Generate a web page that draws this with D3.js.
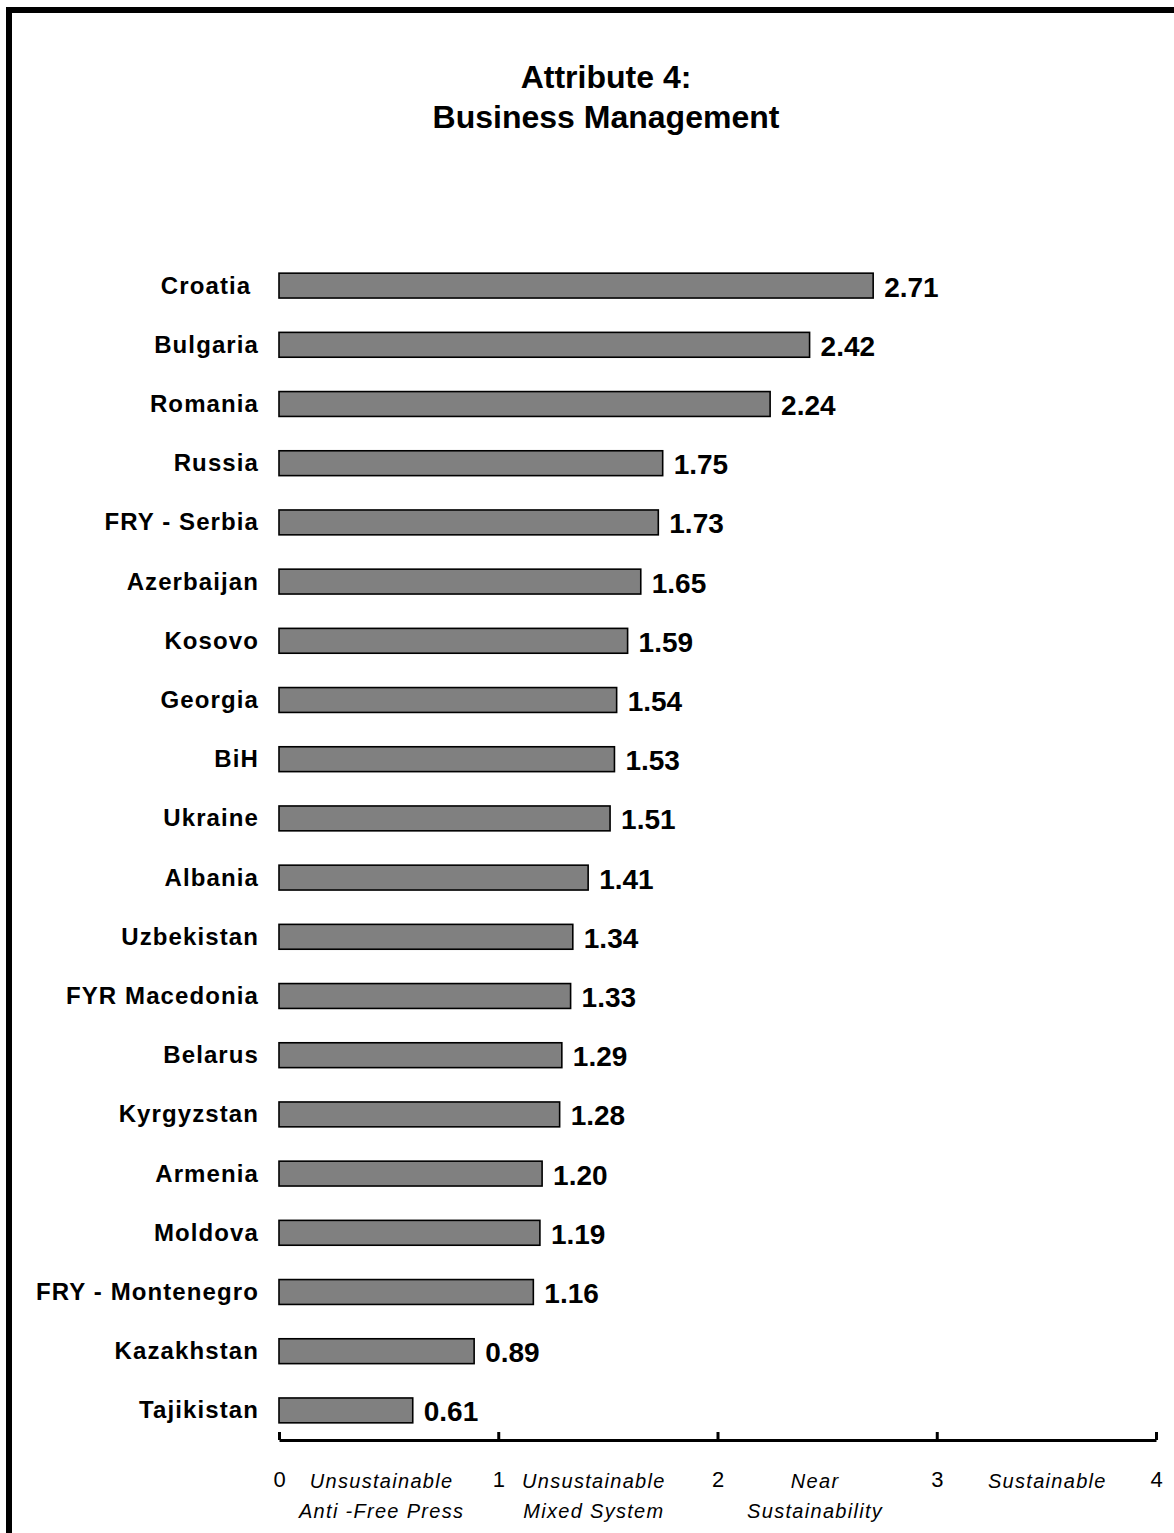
<!DOCTYPE html>
<html>
<head>
<meta charset="utf-8">
<script src="https://cdn.jsdelivr.net/npm/d3@7"></script>
<style>
  html, body { margin: 0; padding: 0; background: #fff; }
  svg { display: block; font-family: "Liberation Sans", Arial, sans-serif; }
</style>
</head>
<body>
<svg id="chart" width="1174" height="1533"></svg>
<script>
// Country scores, top to bottom
const countries = [
  "Croatia ", "Bulgaria", "Romania", "Russia", "FRY - Serbia", "Azerbaijan",
  "Kosovo", "Georgia", "BiH", "Ukraine", "Albania", "Uzbekistan",
  "FYR Macedonia", "Belarus", "Kyrgyzstan", "Armenia", "Moldova",
  "FRY - Montenegro", "Kazakhstan", "Tajikistan"
];
const scores = [
  2.71, 2.42, 2.24, 1.75, 1.73, 1.65, 1.59, 1.54, 1.53, 1.51, 1.41,
  1.34, 1.33, 1.29, 1.28, 1.20, 1.19, 1.16, 0.89, 0.61
];
const tickValues = [0, 1, 2, 3, 4];
const bandLabels = [
  ["Unsustainable", "Anti -Free Press"],
  ["Unsustainable", "Mixed System"],
  ["Near", "Sustainability"],
  ["Sustainable"]
];
const titleLines = ["Attribute 4:", "Business Management"];

const rows = countries.map((c, i) => ({ country: c, value: scores[i] }));

const svg = d3.select("#chart");

// outer frame (only the top and left edges fall inside the page)
svg.append("rect")
  .attr("x", 9).attr("y", 10)
  .attr("width", 1300).attr("height", 1700)
  .attr("fill", "none").attr("stroke", "#000").attr("stroke-width", 6);

// title
svg.append("g").selectAll("text")
  .data(titleLines)
  .join("text")
  .attr("x", 606)
  .attr("y", (d, i) => 88 + i * 40)
  .attr("text-anchor", "middle")
  .attr("font-size", 32)
  .attr("font-weight", "bold")
  .text(d => d);

const x = d3.scaleLinear().domain([0, 4]).range([279, 1156]);
const y = d3.scaleBand()
  .domain(countries)
  .range([256, 1440])
  .paddingInner(0.58)
  .paddingOuter(0.29);

// bars
svg.append("g").selectAll("rect")
  .data(rows)
  .join("rect")
  .attr("x", x(0))
  .attr("y", d => y(d.country))
  .attr("width", d => x(d.value) - x(0))
  .attr("height", y.bandwidth())
  .attr("fill", "#808080")
  .attr("stroke", "#000")
  .attr("stroke-width", 1.6);

// value labels
svg.append("g").selectAll("text")
  .data(rows)
  .join("text")
  .attr("x", d => x(d.value) + 11)
  .attr("y", d => y(d.country) + y.bandwidth() / 2 + 11)
  .attr("font-size", 28)
  .attr("font-weight", "bold")
  .text(d => d.value.toFixed(2));

// country labels
svg.append("g").selectAll("text")
  .data(rows)
  .join("text")
  .attr("x", 259)
  .attr("y", d => y(d.country) + y.bandwidth() / 2 + 8)
  .attr("text-anchor", "end")
  .attr("font-size", 24)
  .attr("font-weight", "bold")
  .attr("letter-spacing", 1.1)
  .style("white-space", "pre")
  .text(d => d.country);

// axis
const axis = d3.axisBottom(x)
  .tickValues(tickValues)
  .tickFormat(d3.format("d"))
  .tickSize(-8)
  .tickSizeOuter(0)
  .tickPadding(31);

const ag = svg.append("g")
  .attr("transform", "translate(0,1440)")
  .call(axis);
ag.select(".domain").attr("stroke", "#000").attr("stroke-width", 3);
ag.selectAll(".tick line").attr("stroke", "#000").attr("stroke-width", 3);
ag.selectAll(".tick text")
  .attr("fill", "#000")
  .attr("font-size", 22)
  .attr("font-family", "\"Liberation Sans\", Arial, sans-serif");

// rating band descriptions between ticks
const nudge = [-7, -14, -12, 1];
const bg = svg.append("g");
bandLabels.forEach((lines, i) => {
  bg.append("text")
    .attr("text-anchor", "middle")
    .attr("font-size", 20)
    .attr("font-style", "italic")
    .attr("letter-spacing", 1.3)
    .selectAll("tspan")
    .data(lines)
    .join("tspan")
    .attr("x", x(tickValues[i] + 0.5) + nudge[i])
    .attr("y", (d, j) => 1488 + j * 30)
    .text(d => d);
});
</script>
</body>
</html>
